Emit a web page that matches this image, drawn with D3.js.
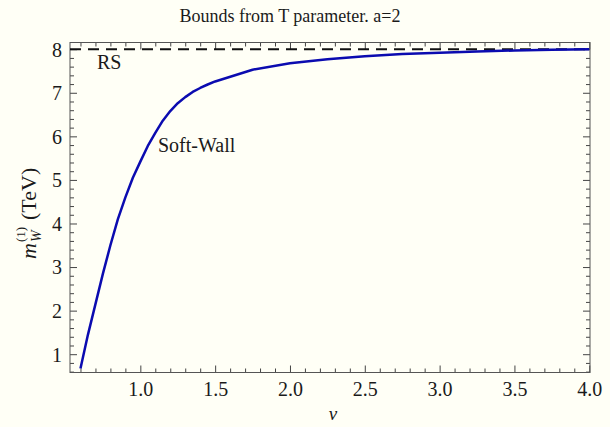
<!DOCTYPE html>
<html>
<head>
<meta charset="utf-8">
<script src="https://cdn.jsdelivr.net/npm/d3@7"></script>
<style>
  html, body { margin: 0; padding: 0; background: #fffff6; }
  svg { display: block; }
</style>
</head>
<body>
<script>
/* Bounds from T parameter, soft-wall vs RS */

var width = 610,
	height = 427;

var plotLeft = 70,
	plotRight = 590,
	plotTop = 42.5,
	plotBottom = 372.5;

var serif = "Liberation Serif";

// data
var nuValues = [0.6, 0.65, 0.7, 0.75, 0.8, 0.85, 0.9, 0.95, 1.0, 1.05, 1.1, 1.15, 1.2, 1.25, 1.3, 1.35, 1.4, 1.45, 1.5,
	1.75, 2.0, 2.25, 2.5, 2.75, 3.0, 3.25, 3.5, 3.75, 4.0];
var massValues = [0.67, 1.45, 2.15, 2.85, 3.5, 4.1, 4.6, 5.05, 5.42, 5.78, 6.08, 6.36, 6.58, 6.76, 6.9, 7.02, 7.11, 7.19, 7.26,
	7.53, 7.68, 7.77, 7.84, 7.89, 7.92, 7.95, 7.97, 7.99, 8.0];
var rsValue = 8;

var xTickValues = [1.0, 1.5, 2.0, 2.5, 3.0, 3.5, 4.0];
var yTickValues = [1, 2, 3, 4, 5, 6, 7, 8];

var x = d3.scaleLinear().domain([0.53, 4.005]).range([plotLeft, plotRight]);
var y = d3.scaleLinear().domain([0.58, 8.154]).range([plotBottom, plotTop]);

var svg = d3.select("body").append("svg")
	.attr("width", width)
	.attr("height", height);

svg.append("rect")
	.attr("width", width)
	.attr("height", height)
	.attr("fill", "#fffff6");

// title
svg.append("text")
	.attr("x", 290)
	.attr("y", 22)
	.attr("text-anchor", "middle")
	.attr("font-family", serif)
	.attr("font-size", 18)
	.attr("fill", "#1a1a1a")
	.text("Bounds from T parameter. a=2");

// minor tick values
var xMinor = d3.range(6, 41).map(function(d) { return d / 10; })
	.filter(function(d) { return Math.abs(d * 2 - Math.round(d * 2)) > 1e-6; });
var yMinor = d3.range(3, 41).map(function(d) { return d / 5; })
	.filter(function(d) { return Math.abs(d - Math.round(d)) > 1e-6; });

// frame axes, ticks pointing inward
function frameAxis(axisFn, scale, major, minor, translate, labels, pad) {
	var g = svg.append("g").attr("transform", translate);
	g.call(axisFn(scale).tickValues(minor).tickSize(-4).tickFormat(""));
	g.selectAll(".domain").remove();
	var gm = svg.append("g").attr("transform", translate);
	gm.call(axisFn(scale).tickValues(major).tickSize(-7).tickPadding(pad || 0)
		.tickFormat(labels ? labels : ""));
	gm.selectAll(".domain").remove();
	return gm;
}

frameAxis(d3.axisBottom, x, xTickValues, xMinor, "translate(0," + plotBottom + ")", d3.format(".1f"), 9);
frameAxis(d3.axisTop, x, xTickValues, xMinor, "translate(0," + plotTop + ")", null);
var yl = frameAxis(d3.axisLeft, y, yTickValues, yMinor, "translate(" + plotLeft + ",0)", d3.format("d"), 8);
frameAxis(d3.axisRight, y, yTickValues, yMinor, "translate(" + plotRight + ",0)", null);

svg.selectAll(".tick line").attr("stroke", "#444").attr("stroke-width", 1);
svg.selectAll(".tick text")
	.attr("font-family", serif)
	.attr("font-size", 20)
	.attr("fill", "#1a1a1a");
yl.selectAll("text").attr("dy", "0.34em");

svg.append("rect")
	.attr("x", plotLeft)
	.attr("y", plotTop)
	.attr("width", plotRight - plotLeft)
	.attr("height", plotBottom - plotTop)
	.attr("fill", "none")
	.attr("stroke", "#555")
	.attr("stroke-width", 1);

// RS dashed line
svg.append("line")
	.attr("x1", x(0.53))
	.attr("x2", x(4.005))
	.attr("y1", y(rsValue))
	.attr("y2", y(rsValue))
	.attr("stroke", "#111")
	.attr("stroke-width", 2)
	.attr("stroke-dasharray", "11,7");

// soft wall curve
var line = d3.line()
	.x(function(d, i) { return x(nuValues[i]); })
	.y(function(d) { return y(d); })
	.curve(d3.curveLinear);

svg.append("path")
	.datum(massValues)
	.attr("d", line)
	.attr("fill", "none")
	.attr("stroke", "#0b0bb0")
	.attr("stroke-width", 2.5)
	.attr("stroke-linejoin", "round");

// curve labels
svg.append("text")
	.attr("x", 97)
	.attr("y", 69)
	.attr("font-family", serif)
	.attr("font-size", 20)
	.attr("fill", "#1a1a1a")
	.text("RS");
svg.append("text")
	.attr("x", 158)
	.attr("y", 152)
	.attr("font-family", serif)
	.attr("font-size", 20)
	.attr("fill", "#1a1a1a")
	.text("Soft-Wall");

// x label
svg.append("text")
	.attr("x", 333)
	.attr("y", 420)
	.attr("text-anchor", "middle")
	.attr("font-family", serif)
	.attr("font-size", 19)
	.attr("font-style", "italic")
	.attr("fill", "#1a1a1a")
	.text("\u03bd");

// y label: m_W^(1) (TeV)
var ylab = svg.append("g")
	.attr("transform", "translate(36,259) rotate(-90)")
	.attr("fill", "#1a1a1a");
ylab.append("text").attr("x", 0).attr("y", 0).attr("font-family", serif)
	.attr("font-size", 22).attr("font-style", "italic").text("m");
ylab.append("text").attr("x", 17).attr("y", 5).attr("font-family", serif)
	.attr("font-size", 14).attr("font-style", "italic").text("W");
ylab.append("text").attr("x", 17).attr("y", -11).attr("font-family", serif)
	.attr("font-size", 13).text("(1)");
ylab.append("text").attr("x", 39).attr("y", 0).attr("font-family", serif)
	.attr("font-size", 22).text("(TeV)");
</script>
</body>
</html>
